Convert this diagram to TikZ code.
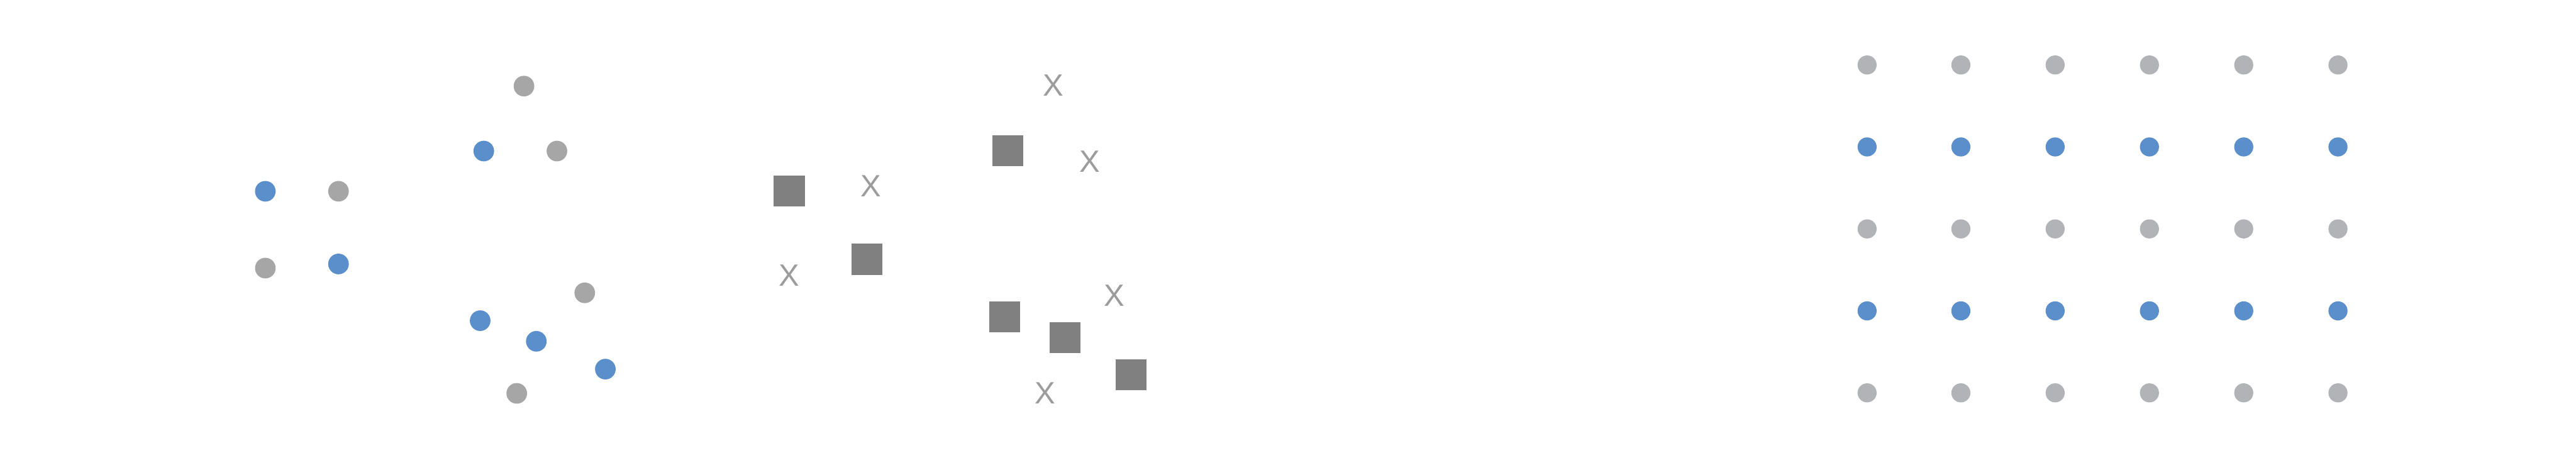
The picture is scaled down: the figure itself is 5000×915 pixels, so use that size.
\documentclass[tikz,border=0pt]{standalone}
\usepackage{fontspec}
\setmainfont{Liberation Sans}
\definecolor{dotblue}{HTML}{5B8FCB}
\definecolor{dotgray}{HTML}{A6A6A6}
\definecolor{gridgray}{HTML}{B1B3B7}
\definecolor{sqgray}{HTML}{808080}
\definecolor{xgray}{HTML}{9C9C9C}
\begin{document}
\begin{tikzpicture}[x=0.01cm,y=-0.01cm,
  bdot/.style={circle,fill=dotblue,draw=none,inner sep=0pt,minimum size=0.40cm},
  gdot/.style={circle,fill=dotgray,draw=none,inner sep=0pt,minimum size=0.40cm},
  gbdot/.style={circle,fill=dotblue,draw=none,inner sep=0pt,minimum size=0.37cm},
  ggdot/.style={circle,fill=gridgray,draw=none,inner sep=0pt,minimum size=0.37cm},
  sqbox/.style={rectangle,fill=sqgray,draw=none,inner sep=0pt,minimum size=0.60cm},
  xmark/.style={inner sep=0pt,text=xgray,font=\fontsize{17}{17}\selectfont}]
\useasboundingbox[fill=white] (0,0) rectangle (5000,915);
% group 1: four dots
\node[bdot] (a1) at (515,371) {};
\node[gdot] (a2) at (657,371) {};
\node[gdot] (a3) at (515,520) {};
\node[bdot] (a4) at (657,512) {};
% group 2: scattered dots
\node[gdot] (c1) at (1017,167) {};
\node[bdot] (c2) at (939,293) {};
\node[gdot] (c3) at (1081,293) {};
\node[gdot] (c4) at (1135,568) {};
\node[bdot] (c5) at (932,622) {};
\node[bdot] (c6) at (1041,662) {};
\node[bdot] (c7) at (1175,716) {};
\node[gdot] (c8) at (1003,763) {};
% group 3: squares and X
\node[sqbox] (s1) at (1532,370) {};
\node[sqbox] (s2) at (1683,503) {};
\node[xmark] (x1) at (1690,361) {X};
\node[xmark] (x2) at (1532,534) {X};
% group 4: squares and X
\node[sqbox] (s3) at (1956,292) {};
\node[sqbox] (s4) at (1950,615) {};
\node[sqbox] (s5) at (2067,655) {};
\node[sqbox] (s6) at (2195,727) {};
\node[xmark] (x3) at (2045,166) {X};
\node[xmark] (x4) at (2115,313) {X};
\node[xmark] (x5) at (2163,573) {X};
\node[xmark] (x6) at (2029,762) {X};
% grid
\foreach \c/\x in {1/3624,2/3806,3/3989,4/4172,5/4355,6/4538}{
  \node[ggdot] (g1\c) at (\x,126) {};
  \node[gbdot] (g2\c) at (\x,285) {};
  \node[ggdot] (g3\c) at (\x,444) {};
  \node[gbdot] (g4\c) at (\x,603) {};
  \node[ggdot] (g5\c) at (\x,762) {};
}
\end{tikzpicture}
\end{document}
